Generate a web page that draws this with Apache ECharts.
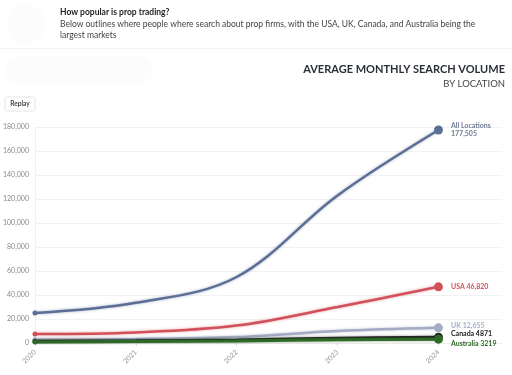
<!DOCTYPE html>
<html>
<head>
<meta charset="utf-8">
<script src="https://cdn.jsdelivr.net/npm/echarts@6/dist/echarts.min.js"></script>
<style>
    html, body { margin: 0; padding: 0; background: #fff; }
    #chart { width: 512px; height: 375px; }
</style>
</head>
<body>
<div id="chart"></div>
<script>
var years = [2020, 2021, 2022, 2023, 2024];
var allLocations = [25000, 33500, 55000, 123000, 177505];
var usa = [7500, 8800, 14500, 30000, 46820];
var uk = [2800, 3300, 5000, 10000, 12655];
var canada = [1500, 1800, 2500, 4000, 4871];
var australia = [900, 1200, 1700, 2700, 3219];
var yTicks = [0, 20000, 40000, 60000, 80000, 100000, 120000, 140000, 160000, 180000];

var font = 'Lato, "Noto Sans", sans-serif';

function fmt(v) {
    return v.toLocaleString('en-US');
}

// color is the line, glow the soft shadow round it
function makeSeries(name, values, color, glow, labelColor, width, labelText, labelOffset) {
    var data = values.map(function (v, i) {
        var item = { value: [years[i], v], symbolSize: 0 };
        if (i == 0) {
            item.symbolSize = 5;
        }
        if (i == values.length - 1) {
            item.symbolSize = 9;
            item.label = {
                show: true,
                position: 'right',
                distance: 8,
                offset: labelOffset,
                formatter: labelText,
                color: labelColor,
                fontSize: 7,
                fontWeight: 'bold',
                lineHeight: 8,
                fontFamily: font
            };
        }
        return item;
    });
    return {
        name: name,
        type: 'line',
        smooth: 0.35,
        symbol: 'circle',
        showAllSymbol: true,
        data: data,
        itemStyle: { color: color },
        lineStyle: {
            color: color,
            width: width,
            shadowColor: glow,
            shadowBlur: 3
        },
        emphasis: { disabled: true }
    };
}

var option = {
    animation: false,
    backgroundColor: '#fff',
    grid: { left: 33, right: 10, top: 127, bottom: 32 },
    xAxis: {
        type: 'value',
        min: 2020,
        max: 2024.63,
        interval: 1,
        splitLine: { show: false },
        axisLine: { show: true, lineStyle: { color: '#eeeeee' } },
        axisTick: { show: true, length: 3, lineStyle: { color: '#dddddd' } },
        axisLabel: {
            rotate: 45,
            fontSize: 7,
            color: '#999',
            fontFamily: font,
            showMaxLabel: false,
            formatter: function (v) {
                return years.indexOf(v) >= 0 ? String(v) : '';
            }
        }
    },
    yAxis: {
        type: 'value',
        min: yTicks[0],
        max: yTicks[yTicks.length - 1],
        interval: 20000,
        axisLine: { show: true, lineStyle: { color: '#f0f0f0' } },
        axisTick: { show: false },
        splitLine: { lineStyle: { color: '#f2f2f2' } },
        axisLabel: {
            fontSize: 7,
            color: '#888',
            margin: 6,
            fontFamily: font,
            formatter: function (v) { return fmt(v); }
        }
    },
    graphic: [
        { type: 'rect', shape: { x: 8, y: 4, width: 36, height: 40, r: 18 }, style: { fill: '#fcfcfc' } },
        { type: 'text', x: 60, y: 8, style: { text: 'How popular is prop trading?', font: 'bold 8.5px ' + font, fill: '#1e1e1e' } },
        { type: 'text', x: 60, y: 19.5, style: { text: 'Below outlines where people where search about prop firms, with the USA, UK, Canada, and Australia being the', font: '8.5px ' + font, fill: '#444' } },
        { type: 'text', x: 60, y: 31, style: { text: 'largest markets', font: '8.5px ' + font, fill: '#444' } },
        { type: 'rect', shape: { x: 0, y: 48, width: 512, height: 1 }, style: { fill: '#f3f3f3' } },
        { type: 'rect', shape: { x: 6, y: 56, width: 146, height: 28, r: 12 }, style: { fill: '#fcfcfc' } },
        { type: 'text', x: 505, y: 64, style: { text: 'AVERAGE MONTHLY SEARCH VOLUME', font: 'bold 11px ' + font, fill: '#2b2f38', align: 'right' } },
        { type: 'text', x: 505, y: 79, style: { text: 'BY LOCATION', font: '9.5px ' + font, fill: '#444', align: 'right' } },
        { type: 'rect', shape: { x: 5, y: 97, width: 30, height: 14, r: 2 }, style: { fill: '#fff', stroke: '#e4e4e4', lineWidth: 1 } },
        { type: 'text', x: 20, y: 104, style: { text: 'Replay', font: 'bold 6.5px ' + font, fill: '#444', align: 'center', verticalAlign: 'middle' } }
    ],
    series: [
        makeSeries('UK', uk, '#a3acc3', 'rgba(163,172,195,0.6)', '#a3acc3', 2.5, 'UK 12,655', [0, -2]),
        makeSeries('Canada', canada, '#222222', 'rgba(34,34,34,0.4)', '#222222', 3, 'Canada 4871', [0, -3]),
        makeSeries('Australia', australia, '#2e6a27', 'rgba(46,106,39,0.5)', '#2e6a27', 3, 'Australia 3219', [0, 5]),
        makeSeries('USA', usa, '#d2505a', 'rgba(210,80,90,0.5)', '#d2505a', 2.5, 'USA 46,820', [0, 0]),
        makeSeries('All Locations', allLocations, '#5b6e95', 'rgba(91,110,149,0.5)', '#6f7b94', 2.5, 'All Locations\n177,505', [0, 0])
    ]
};

var chart = echarts.init(document.getElementById('chart'));
chart.setOption(option);
</script>
</body>
</html>
